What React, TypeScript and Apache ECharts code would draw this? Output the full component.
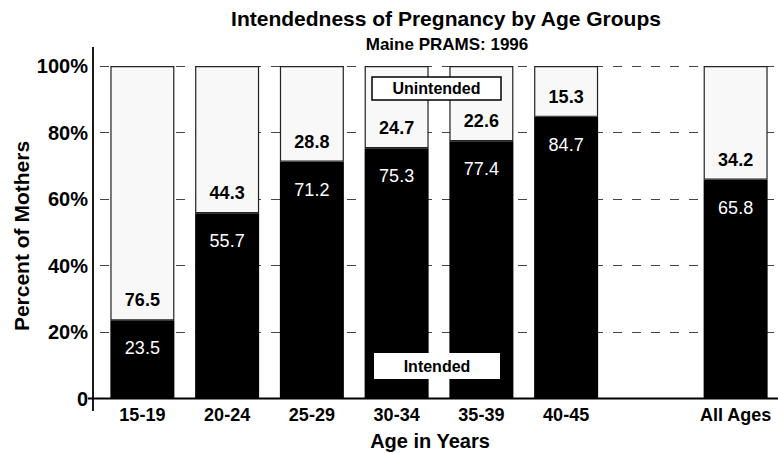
import React, { useEffect, useRef } from "react";
import * as echarts from "echarts";

const categories = ["15-19", "20-24", "25-29", "30-34", "35-39", "40-45", "", "All Ages"];
const intended = [23.5, 55.7, 71.2, 75.3, 77.4, 84.7, null, 65.8];
const unintended = [76.5, 44.3, 28.8, 24.7, 22.6, 15.3, null, 34.2];
const yTicks = [0, 20, 40, 60, 80, 100];

const FONT = "'Liberation Sans', Arial, Helvetica, sans-serif";

export default function App() {
  const ref = useRef<HTMLDivElement>(null);
  useEffect(() => {
    if (!ref.current) return;
    const chart = echarts.init(ref.current, null, { renderer: "svg" });
    chart.setOption({
      animation: false,
      backgroundColor: "#ffffff",
      textStyle: { fontFamily: FONT },
      grid: { left: 100, top: 66, width: 680, height: 332.5, containLabel: false },
      xAxis: {
        type: "category",
        data: categories,
        axisLine: { show: false },
        axisTick: { show: false },
        axisLabel: { margin: 7, fontSize: 18, fontWeight: "bold", color: "#000", fontFamily: FONT, interval: 0 },
      },
      yAxis: {
        type: "value",
        min: yTicks[0],
        max: yTicks[yTicks.length - 1],
        interval: 20,
        axisLine: { show: false },
        axisTick: { show: false },
        axisLabel: {
          margin: 12,
          fontSize: 20,
          fontWeight: "bold",
          color: "#000",
          fontFamily: FONT,
          formatter: (v: number) => (v === 0 ? "0" : v + "%"),
        },
        splitLine: { show: true, lineStyle: { color: "#444", width: 1, type: [9, 10] } },
      },
      series: [
        {
          name: "Intended",
          type: "bar",
          stack: "a",
          barWidth: 64,
          data: intended,
          itemStyle: { color: "#000" },
          label: {
            show: true,
            position: "insideTop",
            distance: 19,
            color: "#fff",
            fontSize: 18,
            fontFamily: FONT,
            formatter: (p: any) => (p.value == null ? "" : Number(p.value).toFixed(1)),
          },
        },
        {
          name: "Unintended",
          type: "bar",
          stack: "a",
          barWidth: 64,
          data: unintended,
          itemStyle: { color: "#f8f8f8", borderColor: "#222", borderWidth: 1.2 },
          label: {
            show: true,
            position: "insideBottom",
            distance: 11,
            color: "#000",
            fontSize: 18,
            fontWeight: "bold",
            fontFamily: FONT,
            formatter: (p: any) => (p.value == null ? "" : Number(p.value).toFixed(1)),
          },
        },
      ],
      graphic: [
        {
          type: "text",
          x: 446,
          y: 18,
          style: { text: "Intendedness of Pregnancy by Age Groups", font: `bold 21px ${FONT}`, fill: "#000", textAlign: "center", textVerticalAlign: "middle" },
        },
        {
          type: "text",
          x: 447,
          y: 44,
          style: { text: "Maine PRAMS: 1996", font: `bold 17px ${FONT}`, fill: "#000", textAlign: "center", textVerticalAlign: "middle" },
        },
        {
          type: "text",
          x: 21,
          y: 236,
          rotation: Math.PI / 2,
          style: { text: "Percent of Mothers", font: `bold 21px ${FONT}`, fill: "#000", textAlign: "center", textVerticalAlign: "middle" },
        },
        {
          type: "text",
          x: 430,
          y: 441,
          style: { text: "Age in Years", font: `bold 20px ${FONT}`, fill: "#000", textAlign: "center", textVerticalAlign: "middle" },
        },
        { type: "line", shape: { x1: 93, y1: 47, x2: 93, y2: 411 }, style: { stroke: "#000", lineWidth: 1.8 }, z: 10 },
        { type: "line", shape: { x1: 88, y1: 398.5, x2: 778, y2: 398.5 }, style: { stroke: "#000", lineWidth: 1.8 }, z: 10 },
        {
          type: "rect",
          shape: { x: 372, y: 77, width: 129, height: 23 },
          style: { fill: "#fff", stroke: "#000", lineWidth: 1.5 },
          z: 10,
        },
        {
          type: "text",
          x: 436.5,
          y: 88.5,
          z: 11,
          style: { text: "Unintended", font: `bold 16px ${FONT}`, fill: "#000", textAlign: "center", textVerticalAlign: "middle" },
        },
        {
          type: "rect",
          shape: { x: 374, y: 353, width: 126, height: 26 },
          style: { fill: "#fff" },
          z: 10,
        },
        {
          type: "text",
          x: 437,
          y: 366,
          z: 11,
          style: { text: "Intended", font: `bold 16px ${FONT}`, fill: "#000", textAlign: "center", textVerticalAlign: "middle" },
        },
      ],
    });
    return () => chart.dispose();
  }, []);
  return <div ref={ref} style={{ position: "absolute", left: 0, top: 0, width: 778, height: 453 }} />;
}
